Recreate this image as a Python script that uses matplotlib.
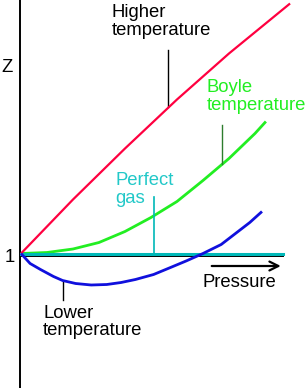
#!/usr/bin/env python3
"""
plot.py — compression factor Z against pressure for a real gas.

Saves out.png (308x388 px).
"""

import matplotlib
matplotlib.use("Agg")            # headless rendering
import matplotlib.pyplot as plt

plt.rcParams["font.family"] = ["Liberation Sans", "DejaVu Sans"]

# ---------------------------------------------------------------------------
# Data (arbitrary units)
# ---------------------------------------------------------------------------

p_high = [0, 2.0, 4.0, 6.0, 8.0, 10.35]
z_high = [1.00, 1.54, 2.05, 2.54, 3.00, 3.50]

p_boyle = [0, 1, 2, 3, 4, 5, 6, 7, 8, 9, 9.42]
z_boyle = [1.00, 1.01, 1.045, 1.11, 1.22, 1.36, 1.52, 1.73, 1.95, 2.20, 2.32]

p_low = [0, 0.35, 0.75, 1.25, 1.6, 2.1, 2.7, 3.3, 3.85, 4.4, 5.1,
         5.75, 6.35, 7.0, 7.7, 8.25, 8.8, 9.27]
z_low = [1.00, 0.90, 0.84, 0.77, 0.73, 0.70, 0.685, 0.69, 0.71, 0.74, 0.79,
         0.86, 0.925, 1.00, 1.09, 1.20, 1.31, 1.42]

p_perfect = [0, 10.08]
z_perfect = [1.0, 1.0]

RED = "#ff0040"
GREEN = "#22ee22"
BLUE = "#1010dd"
CYAN = "#00b8b8"

# ---------------------------------------------------------------------------
# Figure
# ---------------------------------------------------------------------------

fig = plt.figure(figsize=(3.08, 3.88), dpi=100)
ax = fig.add_axes([0, 0, 1, 1])
ax.set_xlim(-0.808, 11.04)
ax.set_ylim(-0.345, 3.535)
ax.axis("off")

# axes drawn by hand (no ticks)
ax.plot([-0.03, -0.03], [-0.345, 3.535], color="black", lw=1.4)
ax.plot([0, 10.08], [0.975, 0.975], color="black", lw=1.4)
ax.annotate("", xy=(10.1, 0.875), xytext=(7.23, 0.875),
            arrowprops=dict(arrowstyle="->", color="black", lw=1.6,
                            mutation_scale=16))

# curves
kw = dict(solid_joinstyle="round", solid_capstyle="butt")
ax.plot(p_high, z_high, color=RED, lw=1.6, zorder=3, **kw)
ax.plot(p_boyle, z_boyle, color=GREEN, lw=2.0, zorder=2, **kw)
ax.plot(p_low, z_low, color=BLUE, lw=2.0, zorder=3, **kw)
ax.plot(p_perfect, z_perfect, color=CYAN, lw=2.2, zorder=2.5)

# pointer lines
ax.plot([5.65, 5.65], [2.46, 3.035], color="black", lw=1.0)
ax.plot([7.73, 7.73], [1.89, 2.285], color="#2e7d2e", lw=1.0)
ax.plot([5.12, 5.12], [1.0, 1.565], color=CYAN, lw=1.2)
ax.plot([1.62, 1.62], [0.535, 0.73], color="black", lw=1.0)

# labels
fs = 13.3
ax.text(-0.54, 2.855, "Z", fontsize=fs, ha="center", va="center")
ax.text(-0.42, 0.965, "1", fontsize=fs, ha="center", va="center")
ax.text(3.5, 3.49, "Higher\ntemperature", fontsize=fs, ha="left", va="top",
        linespacing=1.05)
ax.text(7.15, 2.74, "Boyle\ntemperature", fontsize=fs, color=GREEN,
        ha="left", va="top", linespacing=1.05)
ax.text(3.62, 1.81, "Perfect\ngas", fontsize=fs, color="#22c8c8",
        ha="left", va="top", linespacing=1.05)
ax.text(0.85, 0.49, "Lower\ntemperature", fontsize=fs, ha="left", va="top",
        linespacing=1.05)
ax.text(7.0, 0.665, "Pressure", fontsize=fs, ha="left", va="baseline")

fig.savefig("out.png", dpi=100)
